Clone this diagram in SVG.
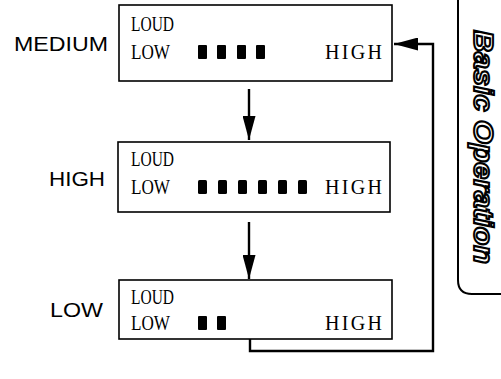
<svg xmlns="http://www.w3.org/2000/svg" width="501" height="379" viewBox="0 0 501 379">
<defs>
<style>
.box{fill:#fff;stroke:#000;stroke-width:1.6}
.lcd{font-family:"Liberation Serif","Times New Roman",serif;font-size:20px;fill:#000}
.hi{text-anchor:end}
.lbl{font-family:"Liberation Sans",Arial,sans-serif;font-size:21px;fill:#000;text-anchor:end}
.bar{fill:#000}
.con{fill:none;stroke:#000;stroke-width:2.4}
.tab{fill:none;stroke:#000;stroke-width:2}
.tabtxt{font-family:"Liberation Sans",Arial,sans-serif;font-weight:bold;font-style:italic;font-size:27px;fill:#fff;stroke:#000;stroke-width:2}
</style>
<marker id="ah" viewBox="0 0 24 13" refX="24" refY="6.5" markerWidth="24" markerHeight="13" markerUnits="userSpaceOnUse" orient="auto">
<path d="M0,0 L24,6.5 L0,13 z" fill="#000"/>
</marker>
</defs>
<g id="medium">
<text class="lbl" x="108" y="51" textLength="94" lengthAdjust="spacingAndGlyphs">MEDIUM</text>
<rect class="box" x="119" y="5" width="273" height="76"/>
<text class="lcd" x="131" y="31" textLength="43" lengthAdjust="spacingAndGlyphs">LOUD</text>
<text class="lcd" x="131" y="59" textLength="39" lengthAdjust="spacingAndGlyphs">LOW</text>
<rect class="bar" x="198" y="45" width="9" height="14" rx="1"/>
<rect class="bar" x="217" y="45" width="9" height="14" rx="1"/>
<rect class="bar" x="237" y="45" width="9" height="14" rx="1"/>
<rect class="bar" x="256" y="45" width="9" height="14" rx="1"/>
<text class="lcd" x="325" y="59" textLength="57" lengthAdjust="spacing">HIGH</text>
</g>
<g id="high">
<text class="lbl" x="105" y="186" textLength="56" lengthAdjust="spacingAndGlyphs">HIGH</text>
<rect class="box" x="118" y="142" width="272" height="70"/>
<text class="lcd" x="131" y="166" textLength="43" lengthAdjust="spacingAndGlyphs">LOUD</text>
<text class="lcd" x="131" y="194" textLength="39" lengthAdjust="spacingAndGlyphs">LOW</text>
<rect class="bar" x="198" y="180" width="9" height="14" rx="1.5"/>
<rect class="bar" x="218" y="180" width="9" height="14" rx="1.5"/>
<rect class="bar" x="238" y="180" width="9" height="14" rx="1.5"/>
<rect class="bar" x="258" y="180" width="9" height="14" rx="1.5"/>
<rect class="bar" x="278" y="180" width="9" height="14" rx="1.5"/>
<rect class="bar" x="298" y="180" width="9" height="14" rx="1.5"/>
<text class="lcd" x="325" y="194" textLength="57" lengthAdjust="spacing">HIGH</text>
</g>
<g id="low">
<text class="lbl" x="103" y="317" textLength="53" lengthAdjust="spacingAndGlyphs">LOW</text>
<rect class="box" x="119" y="280" width="273" height="59"/>
<text class="lcd" x="131" y="304" textLength="43" lengthAdjust="spacingAndGlyphs">LOUD</text>
<text class="lcd" x="131" y="330" textLength="39" lengthAdjust="spacingAndGlyphs">LOW</text>
<rect class="bar" x="198" y="316" width="9" height="14" rx="1"/>
<rect class="bar" x="217" y="316" width="9" height="14" rx="1"/>
<text class="lcd" x="325" y="330" textLength="57" lengthAdjust="spacing">HIGH</text>
</g>
<g id="connectors">
<path class="con" d="M249,89 V140" marker-end="url(#ah)"/>
<path class="con" d="M249,222 V279" marker-end="url(#ah)"/>
<path class="con" d="M250,339 V351 H433 V44 H394" marker-end="url(#ah)"/>
</g>
<g id="tab">
<path class="tab" d="M458,0 V280 Q458,294 472,294 H501"/>
<text class="tabtxt" transform="translate(474,30) rotate(90)" textLength="234" lengthAdjust="spacingAndGlyphs">Basic Operation</text>
</g>
</svg>
